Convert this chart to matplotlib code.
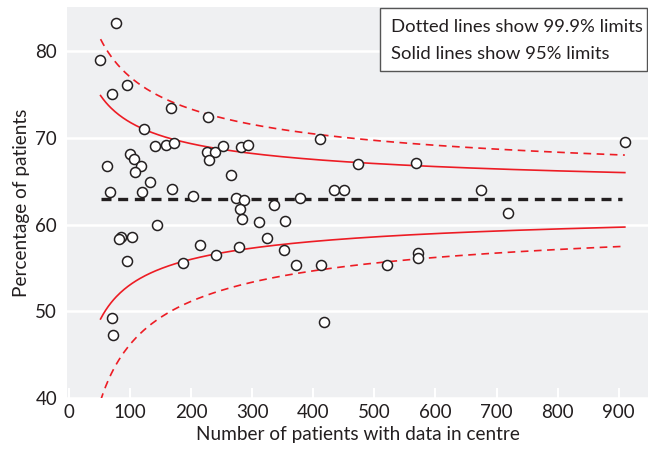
import numpy as np
import matplotlib.pyplot as plt
from matplotlib.patches import Rectangle

plt.rcParams['font.family'] = ['Lato', 'DejaVu Sans']

# centres: number of patients and percentage of patients
n_patients = [77, 51, 95, 71, 168, 228, 123, 141, 159, 173,
              101, 107, 62, 119, 108, 133, 169, 68, 120, 203,
              227, 240, 230, 252, 282, 293, 265, 411, 473, 569,
              434, 450, 274, 287, 280, 284, 312, 336, 354, 378,
              215, 241, 279, 324, 353, 372, 413, 520, 571, 571,
              418, 675, 911, 719, 144, 86, 82, 104, 95, 187,
              70, 73]
pct_patients = [83.2, 78.9, 76.1, 75.0, 73.4, 72.4, 71.0, 69.1, 69.2, 69.4,
                68.1, 67.6, 66.7, 66.7, 66.1, 64.9, 64.1, 63.8, 63.7, 63.25,
                68.4, 68.4, 67.4, 69.1, 68.9, 69.2, 65.7, 69.9, 67.0, 67.1,
                64.0, 64.0, 63.1, 62.8, 61.8, 60.6, 60.3, 62.2, 60.4, 63.0,
                57.6, 56.45, 57.4, 58.4, 57.1, 55.3, 55.4, 55.3, 56.7, 56.15,
                48.8, 64.0, 69.5, 61.3, 60.0, 58.6, 58.3, 58.6, 55.8, 55.6,
                49.3, 47.3]

target = 62.9          # overall percentage
z95 = 1.96
z999 = 3.29
n_min, n_max = 52, 910

# funnel limits (logit scale)
n = np.linspace(n_min, n_max, 400)
p = target / 100
lg = np.log(p / (1 - p))
se = 1 / np.sqrt(n * p * (1 - p))


def inv(v):
    return 100 / (1 + np.exp(-v))


fig = plt.figure(figsize=(6.5, 4.61), dpi=100)
ax = fig.add_axes([0.103, 0.136, 0.894, 0.848])
ax.set_facecolor('#eff0f2')
for s in ax.spines.values():
    s.set_visible(False)

ax.set_xlim(-3, 948)
ax.set_ylim(40, 85)
ax.set_yticks([40, 50, 60, 70, 80])
ax.set_xticks(range(0, 901, 100))
ax.grid(axis='y', color='white', linewidth=1.8)
ax.set_axisbelow(True)
ax.tick_params(axis='x', direction='in', color='white', length=7, width=1.5,
               labelsize=13.5, labelcolor='#231f20', pad=4)
ax.tick_params(axis='y', length=0, labelsize=13.5, labelcolor='#231f20', pad=7)

red = '#ed1c24'
ax.plot(n, inv(lg + z95 * se), color=red, lw=1.2)
ax.plot(n, inv(lg - z95 * se), color=red, lw=1.2)
ax.plot(n, inv(lg + z999 * se), color=red, lw=1.2, dashes=(4.6, 3.3))
ax.plot(n, inv(lg - z999 * se), color=red, lw=1.2, dashes=(4.6, 3.3))
ax.plot([n_min, 905], [target, target], color='#231f20', lw=2.4, dashes=(3, 2))

ax.scatter(n_patients, pct_patients, s=52, facecolor='white',
           edgecolor='#231f20', linewidth=1.1, zorder=5)

ax.set_xlabel('Number of patients with data in centre', fontsize=13.7, color='#231f20')
ax.set_ylabel('Percentage of patients', fontsize=13.7, color='#231f20')

# note box in top-right corner
ax.add_patch(Rectangle((0.539, 0.836), 0.459, 0.162, transform=ax.transAxes,
                       facecolor='white', edgecolor='#555555', lw=1, zorder=6))
ax.text(0.557, 0.938, 'Dotted lines show 99.9% limits', transform=ax.transAxes,
        fontsize=13.3, color='#231f20', va='baseline', zorder=7)
ax.text(0.557, 0.867, 'Solid lines show 95% limits', transform=ax.transAxes,
        fontsize=13.3, color='#231f20', va='baseline', zorder=7)

fig.savefig('out.png', dpi=100)
